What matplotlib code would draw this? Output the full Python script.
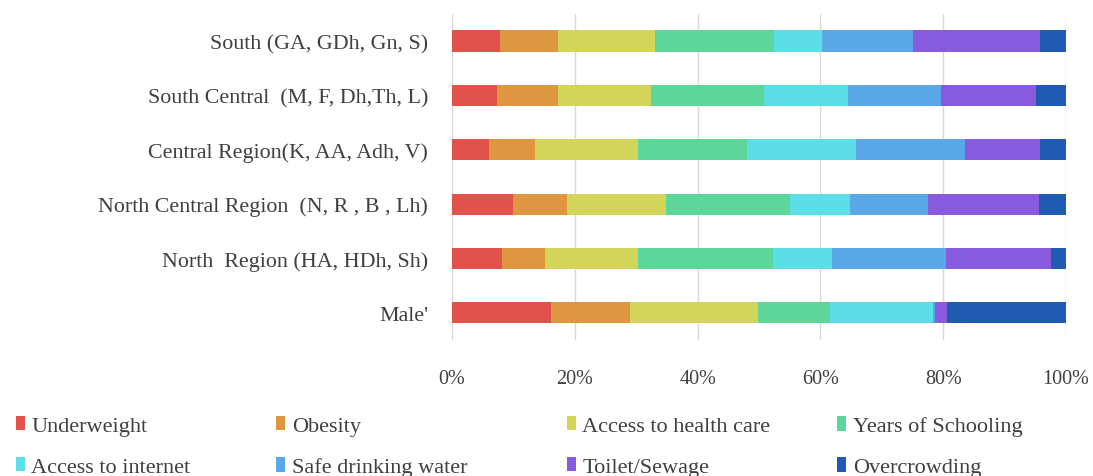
import numpy as np
import matplotlib
matplotlib.use("Agg")
import matplotlib.pyplot as plt
from matplotlib.patches import Patch

plt.rcParams['font.family'] = ['Liberation Serif', 'DejaVu Serif']

# regions, top to bottom
regions = [
    "South (GA, GDh, Gn, S)",
    "South Central  (M, F, Dh,Th, L)",
    "Central Region(K, AA, Adh, V)",
    "North Central Region  (N, R , B , Lh)",
    "North  Region (HA, HDh, Sh)",
    "Male'",
]

# share of each indicator (%), same order as regions
underweight    = [7.8, 7.3, 6.0, 10.0, 8.1, 16.1]
obesity        = [9.5, 10.0, 7.6, 8.7, 7.1, 12.9]
health_care    = [15.8, 15.1, 16.7, 16.1, 15.1, 20.9]
schooling      = [19.4, 18.4, 17.7, 20.2, 22.0, 11.6]
internet       = [7.8, 13.7, 17.8, 9.8, 9.6, 16.9]
drinking_water = [14.8, 15.1, 17.7, 12.7, 18.5, 0.3]
toilet         = [20.7, 15.5, 12.3, 18.1, 17.1, 1.9]
overcrowding   = [4.2, 4.9, 4.2, 4.4, 2.5, 19.4]

series = [
    ("Underweight", underweight, "#E0524A"),
    ("Obesity", obesity, "#DE9641"),
    ("Access to health care", health_care, "#D3D55B"),
    ("Years of Schooling", schooling, "#5CD699"),
    ("Access to internet", internet, "#5BDEE6"),
    ("Safe drinking water", drinking_water, "#5AA8E8"),
    ("Toilet/Sewage", toilet, "#885ADE"),
    ("Overcrowding", overcrowding, "#1F5AB3"),
]

text_col = "#404040"

fig = plt.figure(figsize=(10.93, 4.77), dpi=100)
ax = fig.add_axes([0.4135, 0.285, 0.5618, 0.684])

y = np.arange(len(regions))
left = np.zeros(len(regions))
for name, vals, col in series:
    vals = np.array(vals)
    ax.barh(y, vals, left=left, height=0.39, color=col, label=name, zorder=3)
    left += vals

ax.set_xlim(0, 100)
ax.set_ylim(-0.5, len(regions) - 0.5)
ax.invert_yaxis()
ax.set_yticks(y)
ax.set_yticklabels(regions, fontsize=15.8, color=text_col)
ax.set_xticks(np.arange(0, 101, 20))
ax.set_xticklabels([f"{v}%" for v in range(0, 101, 20)], fontsize=14.5, color=text_col)
ax.tick_params(axis='y', length=0, pad=17)
ax.tick_params(axis='x', length=0, pad=21)
ax.grid(axis='x', color="#D9D9D9", linewidth=1, zorder=0)
for s in ax.spines.values():
    s.set_visible(False)

# legend: 4 columns of 2 entries each
col_x = [0.0144, 0.2526, 0.5187, 0.7662]
for i, cx in enumerate(col_x):
    entries = [series[i], series[i + 4]]
    handles = [Patch(facecolor=c, edgecolor='none') for _, _, c in entries]
    labels = [n for n, _, _ in entries]
    leg = fig.legend(handles, labels, loc='upper left', bbox_to_anchor=(cx, 0.125),
                     frameon=False, fontsize=16, handlelength=0.4, handleheight=0.6,
                     handletextpad=0.3, labelspacing=0.95, borderpad=0, borderaxespad=0)
    for t in leg.get_texts():
        t.set_color(text_col)

fig.savefig("out.png", dpi=100)
